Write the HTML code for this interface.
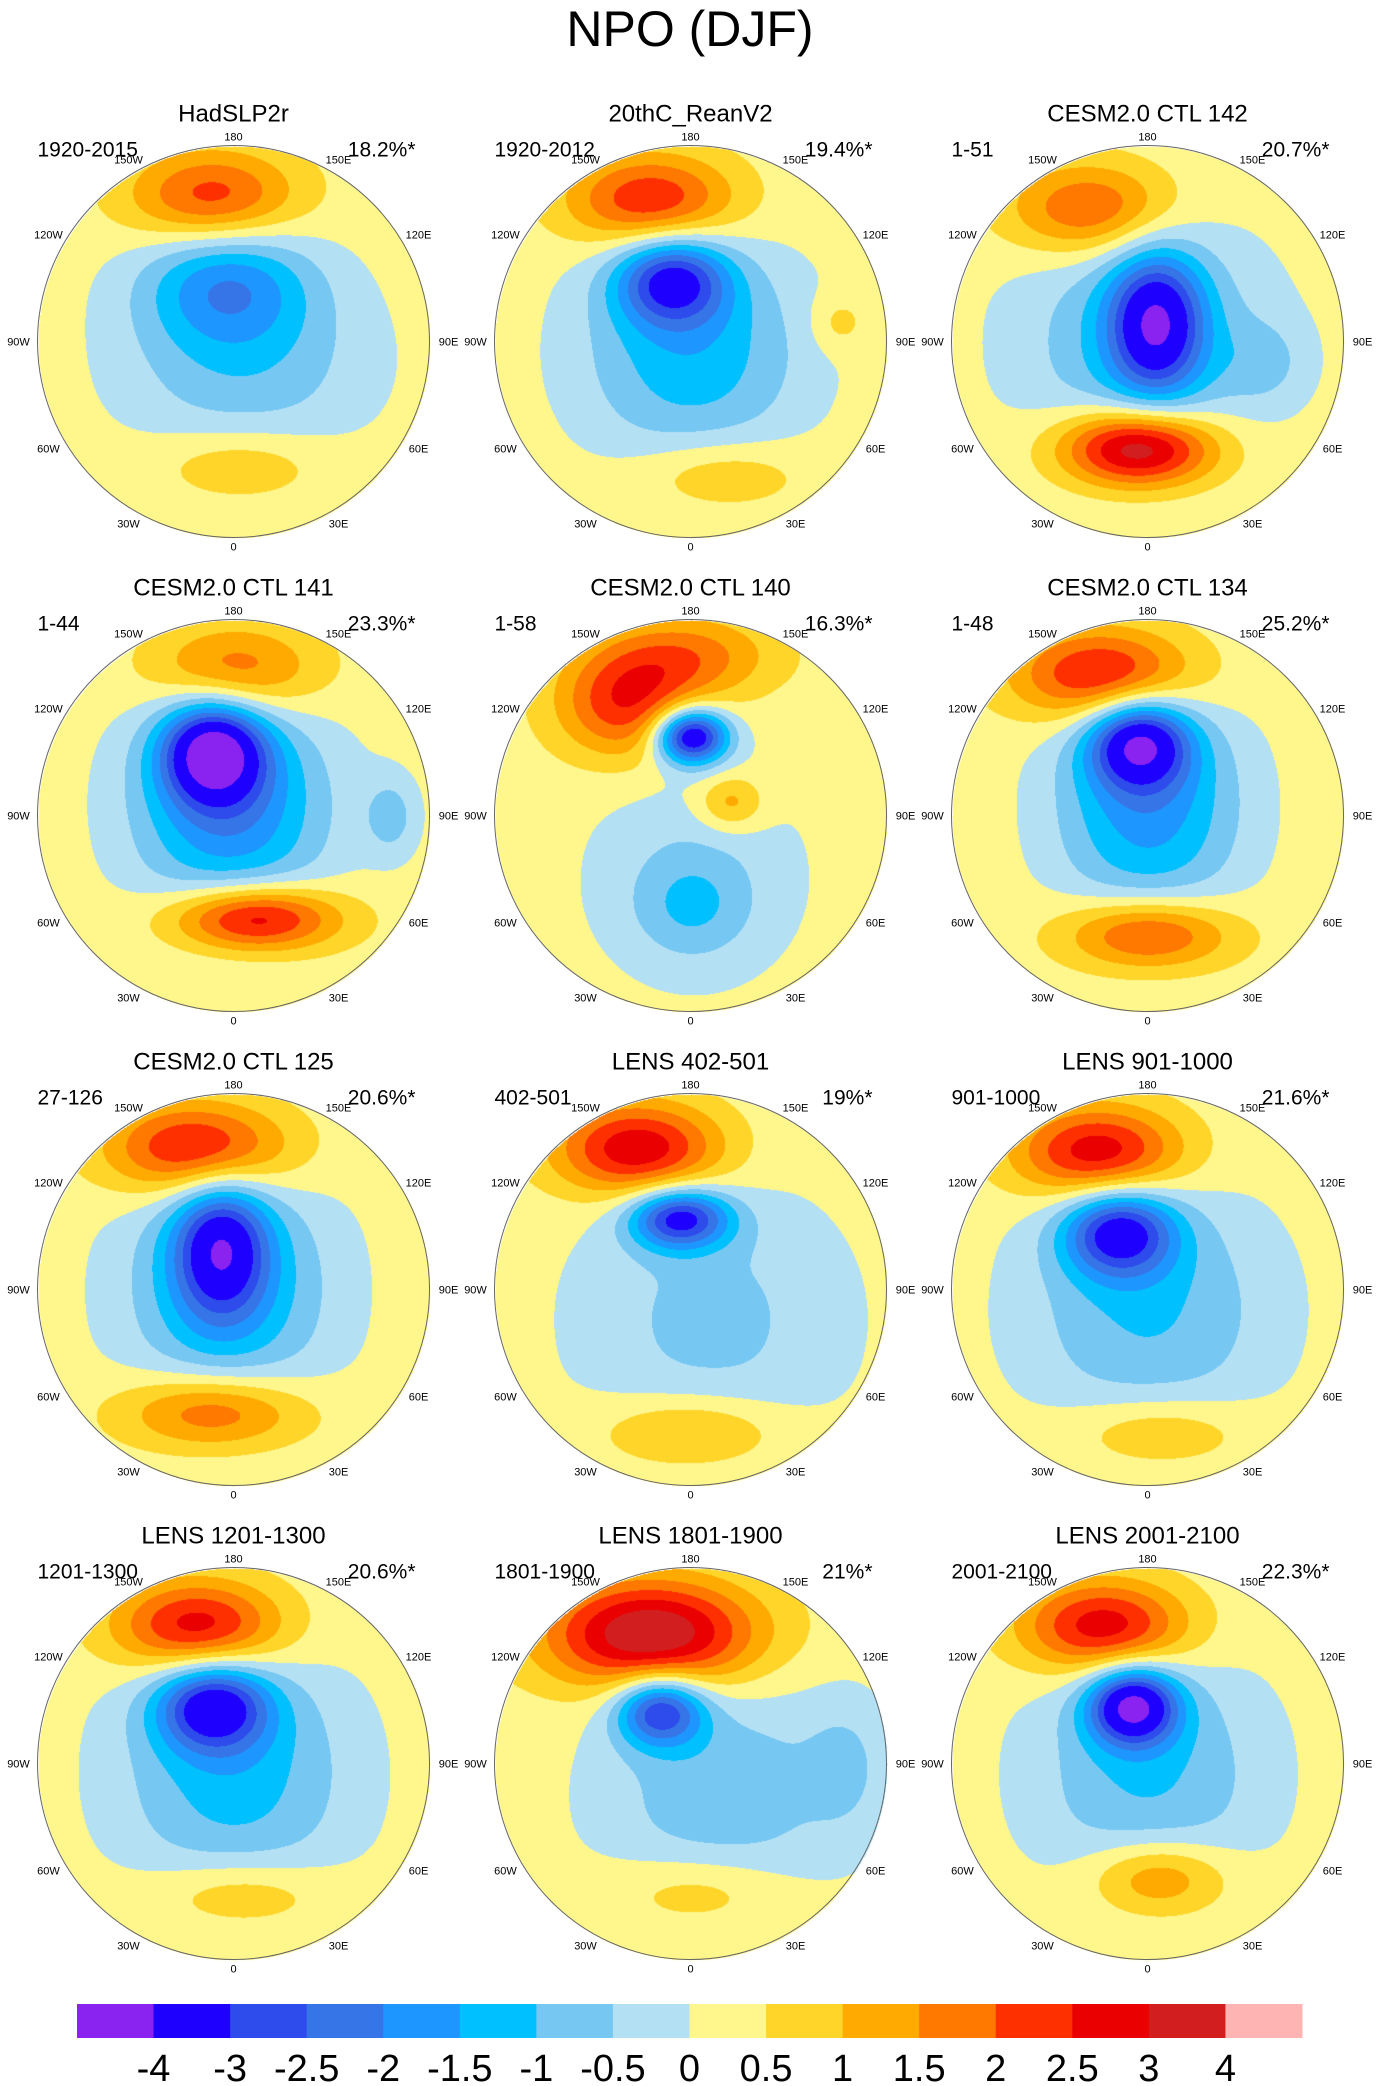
<!DOCTYPE html>
<html><head><meta charset="utf-8">
<style>
html,body{margin:0;padding:0;background:#fff;}
#root{position:relative;width:1380px;height:2086px;overflow:hidden;font-family:"Liberation Sans",sans-serif;}
canvas{position:absolute;}
svg{position:absolute;left:0;top:0;}
</style></head>
<body>
<div id="root">
<svg id="ov" width="1380" height="2086">
<text x="690" y="46" font-size="50" text-anchor="middle" font-family="Liberation Sans, sans-serif">NPO (DJF)</text>
</svg>
</div>
<script>
// ---- data ----
const panelTitles = ["HadSLP2r","20thC_ReanV2","CESM2.0 CTL 142","CESM2.0 CTL 141","CESM2.0 CTL 140","CESM2.0 CTL 134","CESM2.0 CTL 125","LENS 402-501","LENS 901-1000","LENS 1201-1300","LENS 1801-1900","LENS 2001-2100"];
const panelPeriods = ["1920-2015","1920-2012","1-51","1-44","1-58","1-48","27-126","402-501","901-1000","1201-1300","1801-1900","2001-2100"];
const panelVariance = ["18.2%*","19.4%*","20.7%*","23.3%*","16.3%*","25.2%*","20.6%*","19%*","21.6%*","20.6%*","21%*","22.3%*"];
const levelBounds = [-4,-3,-2.5,-2,-1.5,-1,-0.5,0,0.5,1,1.5,2,2.5,3,4];
const levelLabels = ["-4","-3","-2.5","-2","-1.5","-1","-0.5","0","0.5","1","1.5","2","2.5","3","4"];
const levelColors = ["#8A22F0","#1E00FF","#2E4BEB","#3575E8","#1E96FF","#00C0FF","#76C8F2","#B4E0F4","#FFF68C","#FFD52A","#FFAA00","#FF7800","#FF3000","#EA0000","#D21E1E","#FFB4B4"];
const lonLabels = ["180","150E","120E","90E","60E","30E","0","30W","60W","90W","120W","150W"];
// anomaly centres per panel (unit-radius map coords), amplitudes (hPa), widths
const blobX = [
 [-0.11,-0.04,0.05,0.03,-0.3],
 [-0.2,-0.1,0.0,0.14,0.75],
 [-0.29,0.04,-0.03,-0.05,0.6],
 [0.0,-0.11,-0.02,0.1,0.8],
 [-0.33,0.0,0.02,0.0,0.2,0.0],
 [-0.22,-0.05,0.0,0.0,0.75],
 [-0.18,-0.07,-0.03,-0.1,0.6],
 [-0.27,-0.06,0.1,0.0,0.4],
 [-0.25,-0.15,0.0,0.05,0.6],
 [-0.18,-0.11,0.0,0.03,0.6],
 [-0.2,-0.16,0.15,0.05,0.8],
 [-0.22,-0.08,0.0,0.05,0.6]];
const blobY = [
 [-0.74,-0.3,0.1,0.62,0.1],
 [-0.72,-0.32,0.05,0.67,-0.1],
 [-0.68,-0.1,0.0,0.54,0.1],
 [-0.74,-0.33,-0.05,0.52,0.0],
 [-0.58,-0.41,0.3,0.46,-0.07,-0.82],
 [-0.72,-0.38,-0.05,0.6,0.1],
 [-0.72,-0.22,0.0,0.62,0.1],
 [-0.72,-0.37,0.15,0.72,0.1],
 [-0.7,-0.3,0.1,0.72,0.1],
 [-0.7,-0.3,0.05,0.66,0.1],
 [-0.66,-0.28,0.15,0.65,0.0],
 [-0.7,-0.3,0.05,0.58,0.1]];
const blobAmp = [
 [2.1,-1.8,-1.1,0.85,0.0],
 [2.4,-2.9,-1.6,0.9,0.6],
 [2.0,-3.3,-1.3,3.6,-0.6],
 [1.9,-3.8,-2.2,3.0,-0.9],
 [2.2,-4.2,-0.7,-0.8,1.2,1.4],
 [2.7,-3.4,-2.0,2.2,0.0],
 [2.8,-3.0,-1.6,2.0,0.0],
 [2.8,-3.3,-0.9,1.2,0.0],
 [2.8,-3.2,-1.3,1.0,0.0],
 [2.8,-3.2,-1.5,1.0,0.0],
 [3.5,-3.1,-1.1,0.9,-0.6],
 [2.8,-3.9,-1.3,1.6,0.0]];
const blobSx = [
 [0.3,0.3,0.45,0.3,0.2],
 [0.3,0.2,0.4,0.3,0.1],
 [0.3,0.17,0.45,0.28,0.15],
 [0.3,0.18,0.35,0.3,0.1],
 [0.25,0.13,0.4,0.2,0.12,0.3],
 [0.32,0.18,0.33,0.3,0.15],
 [0.32,0.17,0.38,0.33,0.2],
 [0.3,0.18,0.5,0.32,0.2],
 [0.3,0.2,0.45,0.32,0.2],
 [0.3,0.2,0.42,0.32,0.2],
 [0.38,0.16,0.45,0.32,0.15],
 [0.3,0.16,0.42,0.25,0.2]];
const blobSy = [
 [0.17,0.22,0.35,0.13,0.2],
 [0.17,0.16,0.4,0.13,0.1],
 [0.17,0.25,0.45,0.14,0.15],
 [0.17,0.18,0.4,0.12,0.15],
 [0.2,0.1,0.4,0.18,0.1,0.15],
 [0.17,0.16,0.4,0.13,0.15],
 [0.17,0.25,0.45,0.14,0.2],
 [0.17,0.11,0.5,0.13,0.2],
 [0.17,0.16,0.45,0.13,0.2],
 [0.17,0.16,0.45,0.13,0.2],
 [0.2,0.13,0.45,0.14,0.25],
 [0.17,0.14,0.45,0.14,0.2]];
const background = 0.25;

// ---- layout ----
const colX = [233.5,690.5,1147.5];
const rowY = [341.5,815.5,1289.5,1763.5];
const R = 196;
const root = document.getElementById('root');
const ov = document.getElementById('ov');
const NS = 'http://www.w3.org/2000/svg';
function hexRgb(h){return [parseInt(h.substr(1,2),16),parseInt(h.substr(3,2),16),parseInt(h.substr(5,2),16)];}
const rgb = levelColors.map(hexRgb);
function levelIndex(v){let i=0;while(i<levelBounds.length && v>=levelBounds[i]) i++;return i;}
function svgText(x,y,size,anchor,txt){const t=document.createElementNS(NS,'text');t.setAttribute('x',x);t.setAttribute('y',y);t.setAttribute('font-size',size);t.setAttribute('text-anchor',anchor);t.setAttribute('font-family','Liberation Sans, sans-serif');t.textContent=txt;ov.appendChild(t);return t;}

for(let p=0;p<12;p++){
  const cx=colX[p%3], cy=rowY[Math.floor(p/3)];
  const cv=document.createElement('canvas');
  const S=2*R+2;
  cv.width=S;cv.height=S;
  cv.style.left=(cx-R-1)+'px';cv.style.top=(cy-R-1)+'px';
  
  
  root.insertBefore(cv,ov);
  const ctx=cv.getContext('2d');
  const img=ctx.createImageData(S,S);
  for(let j=0;j<S;j++)for(let i=0;i<S;i++){
    const u=(i-R-1)/R, w=(j-R-1)/R;
    if(u*u+w*w>1) continue;
    let v=background;
    for(let k=0;k<blobAmp[p].length;k++){
      const dx=(u-blobX[p][k])/blobSx[p][k], dy=(w-blobY[p][k])/blobSy[p][k];
      v+=blobAmp[p][k]*Math.exp(-0.5*(dx*dx+dy*dy));
    }
    const c=rgb[levelIndex(v)];const o=(j*S+i)*4;
    img.data[o]=c[0];img.data[o+1]=c[1];img.data[o+2]=c[2];img.data[o+3]=255;
  }
  ctx.putImageData(img,0,0);
  const circ=document.createElementNS(NS,'circle');
  circ.setAttribute('cx',cx);circ.setAttribute('cy',cy);circ.setAttribute('r',R);
  circ.setAttribute('fill','none');circ.setAttribute('stroke','#666');circ.setAttribute('stroke-width','1');
  
  
  ov.appendChild(circ);
  const t1=svgText(cx,cy-220,24,'middle',panelTitles[p]);
  
  
  const t2=svgText(cx-196,cy-185,21,'start',panelPeriods[p]);
  
  
  const t3=svgText(cx+182,cy-185,21,'end',panelVariance[p]);
  
  
  for(let k=0;k<12;k++){
    const a=k*30*Math.PI/180;
    const sx=Math.sin(a), sy=-Math.cos(a);
    const rr=205+Math.abs(sx)*10;
    const t=svgText(cx+sx*rr,cy+sy*rr+4,11,'middle',lonLabels[k]);
    
    
  }
}
// ---- colorbar ----
const cbX0=77, cbX1=1302, cbY=2004, cbH=34;
const bw=(cbX1-cbX0)/levelColors.length;
for(let i=0;i<levelColors.length;i++){
  const r=document.createElementNS(NS,'rect');
  r.setAttribute('x',cbX0+i*bw);r.setAttribute('y',cbY);r.setAttribute('width',bw+0.5);r.setAttribute('height',cbH);
  r.setAttribute('fill',levelColors[i]);
  
  
  ov.appendChild(r);
}
for(let i=0;i<levelLabels.length;i++){
  const t=svgText(cbX0+(i+1)*bw,2081,38,'middle',levelLabels[i]);
  t.setAttribute('font-family','Liberation Sans Narrow, Liberation Sans, sans-serif');
  
  
}
</script>
</body></html>
